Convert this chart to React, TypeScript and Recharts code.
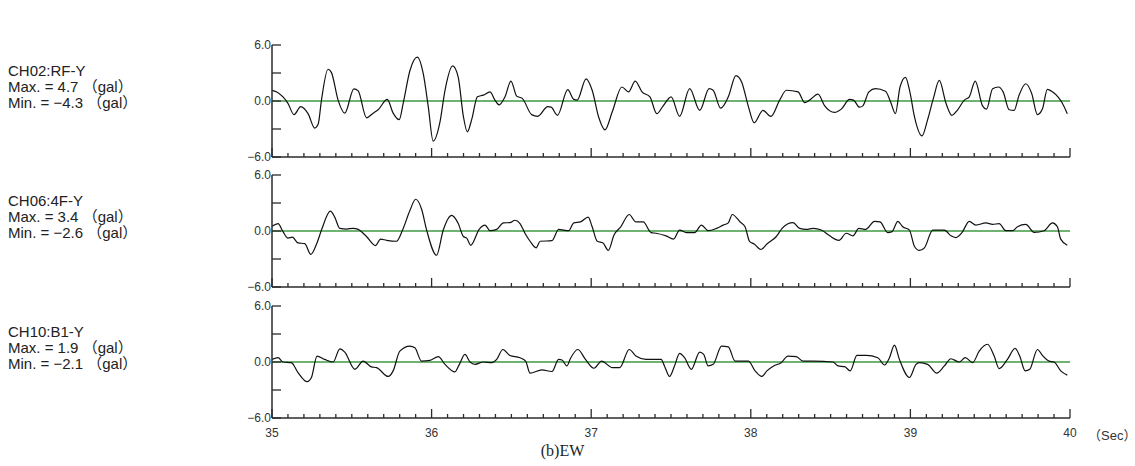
import {CartesianGrid, Line, LineChart, ReferenceLine, XAxis, YAxis} from "recharts";

// waveforms: [time (s), acceleration (gal)]
const ch02: [number, number][] = [
    [35.000, 1.15], [35.027, 1.0], [35.069, 0.45], [35.100, -0.25], [35.138, -1.46], [35.180, -0.6], [35.226, -1.36],
    [35.268, -2.9], [35.289, -2.5], [35.310, 0.1], [35.351, 3.4], [35.372, 3.07], [35.414, 0.1], [35.456, -1.3],
    [35.513, 1.3], [35.540, 1.08], [35.592, -1.8], [35.634, -1.3], [35.665, -0.94], [35.722, 0.17], [35.759, -1.3],
    [35.797, -2.0], [35.822, -0.25], [35.864, 3.24], [35.910, 4.7], [35.948, 2.9], [35.979, -0.6], [36.010, -4.3],
    [36.052, -2.3], [36.084, 1.15], [36.132, 3.76], [36.167, 2.54], [36.199, -1.64], [36.224, -3.3], [36.251, -2.0],
    [36.287, 0.45], [36.324, 0.63], [36.366, 0.98], [36.397, 0.1], [36.423, -0.42], [36.460, 0.45], [36.497, 2.13],
    [36.533, 0.52], [36.568, 0.28], [36.627, -1.46], [36.665, -1.64], [36.728, -0.6], [36.749, -0.66], [36.789, -1.53],
    [36.853, 1.22], [36.891, 0.17], [36.912, 0.1], [36.968, 2.37], [37.006, 1.15], [37.048, -1.8], [37.086, -3.1],
    [37.133, -1.1], [37.192, 1.5], [37.234, 0.98], [37.276, 2.13], [37.318, 0.98], [37.368, 0.45], [37.411, -1.36],
    [37.448, -0.6], [37.501, 0.45], [37.554, -1.64], [37.617, 1.32], [37.680, -1.0], [37.739, 1.32], [37.764, 1.15],
    [37.811, -0.77], [37.859, 0.45], [37.907, 2.72], [37.943, 2.02], [37.985, -0.6], [38.021, -2.33], [38.076, -1.0],
    [38.126, -1.64], [38.181, 0.1], [38.223, 1.15], [38.296, 0.98], [38.338, -0.17], [38.369, 0.1], [38.421, 0.73],
    [38.463, -0.52], [38.525, -1.22], [38.567, -0.87], [38.619, 0.17], [38.644, 0.1], [38.681, -0.66], [38.702, -0.52],
    [38.740, 0.98], [38.781, 1.32], [38.844, 1.05], [38.879, -0.24], [38.906, -1.36], [38.935, 1.5], [38.969, 2.54],
    [38.998, 0.87], [39.025, -1.64], [39.073, -3.73], [39.108, -2.0], [39.144, 0.28], [39.181, 2.2], [39.223, -0.24],
    [39.260, -1.53], [39.296, -0.94], [39.338, 0.1], [39.369, 0.45], [39.406, 2.13], [39.452, -0.52], [39.477, -0.87],
    [39.515, 1.32], [39.552, 1.5], [39.581, 0.98], [39.619, -0.94], [39.650, -1.0], [39.681, 0.63], [39.723, 1.85],
    [39.760, 0.8], [39.796, -1.46], [39.827, -0.87], [39.858, 1.25], [39.890, 0.98], [39.927, 0.38], [39.952, -0.24],
    [39.983, -1.36],
];

const ch06: [number, number][] = [
    [35.000, 0.52], [35.038, 0.8], [35.069, -0.07], [35.100, -0.76], [35.128, -0.66], [35.163, -1.28], [35.205, -1.35],
    [35.243, -2.5], [35.282, -1.28], [35.310, 0.1], [35.366, 2.12], [35.393, 1.49], [35.425, 0.28], [35.467, 0.21],
    [35.508, 0.28], [35.540, 0.17], [35.592, -0.59], [35.649, -1.56], [35.680, -0.87], [35.718, -1.0], [35.780, -1.1],
    [35.818, 0.1], [35.864, 2.19], [35.900, 3.4], [35.937, 2.36], [35.969, 0.1], [36.031, -2.6], [36.073, 0.1],
    [36.125, 1.67], [36.167, 0.8], [36.199, -0.59], [36.220, -0.76], [36.245, -1.53], [36.299, 0.21], [36.335, 0.63],
    [36.366, 0.03], [36.408, 0.17], [36.450, 0.87], [36.491, 0.9], [36.522, 1.15], [36.554, 0.8], [36.585, -0.24],
    [36.617, -1.1], [36.655, -1.8], [36.680, -1.1], [36.754, -1.04], [36.796, 0.17], [36.859, 0.03], [36.891, 0.87],
    [36.933, 0.97], [36.981, 1.49], [37.006, 0.45], [37.038, -1.1], [37.074, -1.28], [37.107, -2.08], [37.143, -0.42],
    [37.185, 0.45], [37.238, 1.77], [37.280, 0.97], [37.326, 0.97], [37.375, -0.17], [37.406, -0.24], [37.469, -0.52],
    [37.516, -0.87], [37.554, 0.1], [37.596, -0.17], [37.648, -0.17], [37.691, 0.63], [37.733, 0.03], [37.785, 0.28],
    [37.827, 0.63], [37.859, 0.87], [37.884, 1.77], [37.933, 0.97], [37.964, 0.45], [37.992, -1.1], [38.021, -1.39],
    [38.063, -1.98], [38.101, -1.39], [38.160, -0.59], [38.196, 0.28], [38.230, 0.75], [38.265, 0.9], [38.306, 0.28],
    [38.348, 0.17], [38.390, 0.28], [38.442, 0.1], [38.494, -0.52], [38.552, -1.0], [38.598, -0.24], [38.640, -0.52],
    [38.677, 0.28], [38.719, 0.17], [38.775, 1.04], [38.810, 0.97], [38.858, -0.17], [38.885, -0.07], [38.921, 1.04],
    [38.952, 0.45], [38.994, 0.1], [39.025, -1.63], [39.056, -2.08], [39.088, -1.8], [39.140, 0.1], [39.213, 0.1],
    [39.254, -0.52], [39.285, -0.7], [39.323, -0.17], [39.369, 1.04], [39.410, 0.63], [39.473, 0.87], [39.515, 0.7],
    [39.556, 0.8], [39.598, 0.03], [39.640, 0.03], [39.671, 0.45], [39.723, 0.7], [39.775, -0.14], [39.838, 0.03],
    [39.890, 0.87], [39.921, 0.45], [39.942, -0.87], [39.983, -1.53],
];

const ch10: [number, number][] = [
    [35.000, 0.28], [35.038, 0.46], [35.069, 0.0], [35.121, -0.07], [35.163, -1.13], [35.220, -2.1], [35.247, -1.66],
    [35.282, 0.64], [35.330, 0.28], [35.383, 0.0], [35.425, 1.41], [35.456, 1.06], [35.519, -0.78], [35.571, 0.1],
    [35.623, -0.53], [35.655, -0.6], [35.728, -1.55], [35.759, -0.95], [35.801, 1.17], [35.864, 1.7], [35.895, 1.52],
    [35.937, 0.1], [35.990, 0.18], [36.042, 0.57], [36.084, -0.25], [36.146, -1.06], [36.174, -0.25], [36.209, 0.81],
    [36.241, 0.0], [36.272, -0.25], [36.324, 0.0], [36.377, -0.07], [36.408, 0.28], [36.446, 1.34], [36.491, 0.7],
    [36.554, 0.46], [36.589, 0.1], [36.617, -1.2], [36.691, -0.85], [36.754, -1.02], [36.796, 0.28], [36.817, 0.21],
    [36.848, -0.42], [36.869, 0.35], [36.916, 1.34], [36.964, 0.28], [37.017, -0.67], [37.065, 0.1], [37.133, -0.6],
    [37.179, -0.6], [37.238, 1.34], [37.280, 0.64], [37.343, 0.28], [37.438, 0.28], [37.459, -0.42], [37.491, -1.55],
    [37.522, -0.42], [37.554, 0.92], [37.585, 0.46], [37.627, -0.78], [37.680, 1.06], [37.705, 0.81], [37.733, -0.42],
    [37.764, -0.25], [37.817, 1.7], [37.859, 1.63], [37.901, 0.1], [37.985, 0.1], [38.027, -0.95], [38.069, -1.55],
    [38.101, -0.95], [38.143, -0.42], [38.190, -0.07], [38.233, 0.64], [38.285, 0.57], [38.327, 0.1], [38.390, 0.1],
    [38.515, 0.0], [38.546, -0.42], [38.588, -0.5], [38.623, -0.95], [38.665, 0.71], [38.723, 0.71], [38.796, 0.46],
    [38.838, -0.32], [38.869, 0.46], [38.900, 1.8], [38.931, 0.28], [38.994, -1.66], [39.035, -0.25], [39.056, -0.07],
    [39.108, -0.25], [39.165, -1.2], [39.213, -0.42], [39.254, 0.35], [39.306, 0.0], [39.344, 0.46], [39.390, -0.07],
    [39.431, 1.17], [39.483, 1.9], [39.525, 0.64], [39.556, -0.71], [39.608, 0.28], [39.656, 1.45], [39.685, 0.64],
    [39.719, -0.95], [39.748, -0.78], [39.796, 1.34], [39.827, 0.71], [39.869, 0.1], [39.900, 0.0], [39.942, -0.95],
    [39.983, -1.41],
];

const channels = ["CH02:RF-Y", "CH06:4F-Y", "CH10:B1-Y"];
const maxValues = ["4.7", "3.4", "1.9"];
const minValues = ["−4.3", "−2.6", "−2.1"];
const majorTicks = [35, 36, 37, 38, 39, 40];
const yTicks = [-6, -3, 0, 3, 6];
const yLabels: Record<number, string> = {6: "6.0", 0: "0.0", [-6]: "−6.0"};

const series = [ch02, ch06, ch10];
const xTicks = majorTicks.slice(0, -1).flatMap((s) => Array.from({length: 10}, (_, i) => Math.round((s + i / 10) * 10) / 10)).concat([40]);

const AXIS = "#2b2b2b";
const PLOT_LEFT = 272;
const PLOT_RIGHT = 1070;
const PANEL_TOPS = [45, 175, 306];
const PLOT_H = 112;

const XTick = ({x, y, payload, showLabel}: any) => {
    const v = payload.value as number;
    const major = Math.abs(v - Math.round(v)) < 1e-6;
    return (
        <g>
            <line x1={x} x2={x} y1={y} y2={y - (major ? 9 : 4)} stroke={AXIS} strokeWidth={1.3}/>
            {showLabel && major &&
                <text x={x} y={y + 19} textAnchor="middle" fontSize={12} fill="#333"
                      fontFamily="Liberation Sans, Arial, sans-serif">{v}</text>}
        </g>
    );
};

const YTick = ({x, y, payload}: any) => {
    const v = payload.value as number;
    return (
        <g>
            <line x1={x} x2={x + 9} y1={y} y2={y} stroke={AXIS} strokeWidth={1.3}/>
            {yLabels[v] !== undefined &&
                <text x={x - 1} y={y + 4} textAnchor="end" fontSize={12} fill="#333"
                      fontFamily="Liberation Sans, Arial, sans-serif">{yLabels[v]}</text>}
        </g>
    );
};

const Panel = ({idx}: { idx: number }) => {
    const data = series[idx].map(([t, v]) => ({t, v}));
    const top = PANEL_TOPS[idx] - 8;
    return (
        <div style={{position: "absolute", left: 0, top}}>
            <LineChart data={data} width={1135} height={8 + PLOT_H + 22}
                       margin={{top: 8, right: 1135 - PLOT_RIGHT, bottom: 0, left: PLOT_LEFT - 40}}>
                <CartesianGrid stroke="none" fill="none"/>
                <XAxis dataKey="t" type="number" domain={[35, 40]} ticks={xTicks} interval={0} height={22}
                       tickSize={0} tickMargin={0} tickLine={false} axisLine={{stroke: AXIS, strokeWidth: 1.5}}
                       tick={<XTick showLabel={idx === 2}/>} allowDataOverflow/>
                <YAxis type="number" domain={[-6, 6]} ticks={yTicks} interval={0} width={40}
                       tickSize={0} tickMargin={0} tickLine={false} axisLine={{stroke: AXIS, strokeWidth: 1.5}}
                       tick={<YTick/>} allowDataOverflow/>
                <ReferenceLine y={0} stroke="#3f9a45" strokeWidth={1.5}/>
                <Line dataKey="v" type="monotone" stroke="#111" strokeWidth={1.2} dot={false}
                      isAnimationActive={false}/>
            </LineChart>
        </div>
    );
};

const labelStyle: React.CSSProperties = {
    position: "absolute",
    left: 8,
    fontFamily: "Liberation Sans, Arial, 'Noto Sans CJK JP', sans-serif",
    fontSize: 15,
    lineHeight: "16px",
    color: "#222",
};

const App = (): React.JSX.Element => {
    return (
        <div style={{position: "relative", width: 1135, height: 466, background: "#fff", overflow: "hidden"}}>
            <style>{"body{margin:0}"}</style>
            {[0, 1, 2].map((i) => (
                <div key={"lbl" + i} style={{...labelStyle, top: PANEL_TOPS[i] + 18}}>
                    <div>{channels[i]}</div>
                    <div>Max. = {maxValues[i]} （gal）</div>
                    <div>Min. = {minValues[i]} （gal）</div>
                </div>
            ))}
            {[0, 1, 2].map((i) => <Panel key={i} idx={i}/>)}
            <div style={{position: "absolute", left: 1088, top: 425, fontSize: 13, color: "#333",
                fontFamily: "Liberation Sans, Arial, 'Noto Sans CJK JP', sans-serif"}}>（Sec）</div>
            <div style={{position: "absolute", left: 0, width: 1135, top: 442, textAlign: "center", fontSize: 16,
                color: "#222", fontFamily: "'Liberation Serif', 'Noto Sans CJK JP', serif"}}>
                <span style={{marginLeft: -10}}>(b)EW</span>
            </div>
        </div>
    );
};

export default App;
